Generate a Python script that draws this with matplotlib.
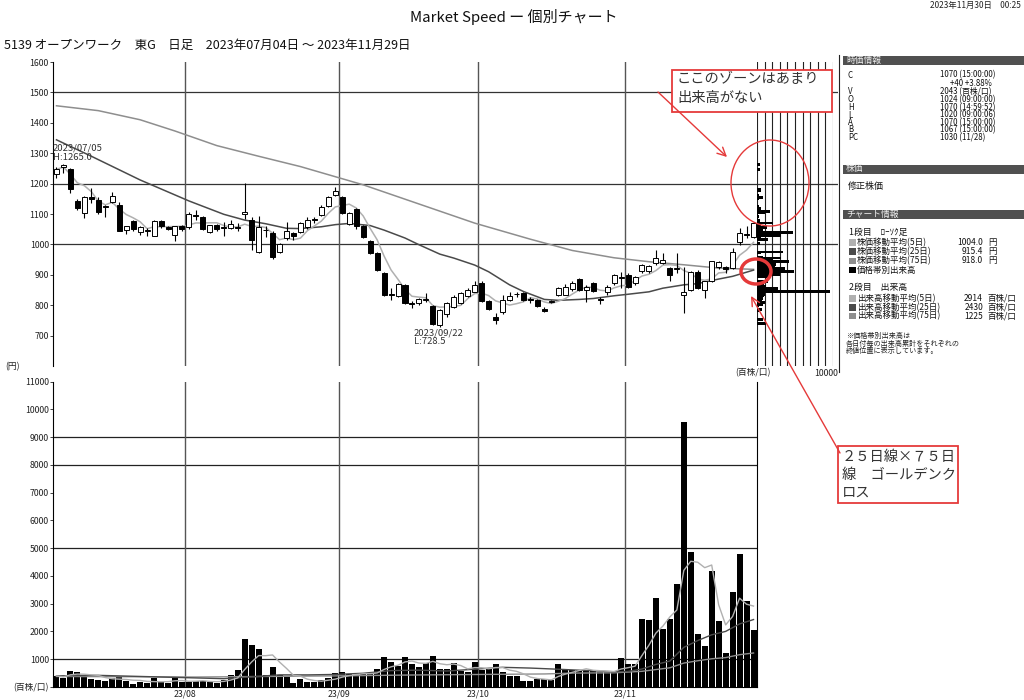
import numpy as np
import pandas as pd
import matplotlib
matplotlib.use("Agg")
import matplotlib.pyplot as plt
from matplotlib.patches import Rectangle, Ellipse, FancyArrowPatch

plt.rcParams['font.family'] = ['Noto Sans CJK JP', 'DejaVu Sans']

# ---------------- data ----------------
opens = [1232, 1255, 1247, 1144, 1103, 1155, 1146, 1125, 1141, 1130,
         1047, 1077, 1042, 1043, 1029, 1077, 1057, 1032, 1061, 1057,
         1097, 1089, 1040, 1064, 1057, 1053, 1056, 1100, 1081, 976,
         1048, 1037, 976, 1020, 1036, 1042, 1057, 1082, 1097, 1127,
         1163, 1155, 1067, 1116, 1062, 1012, 973, 905, 837, 831,
         867, 808, 807, 818, 798, 735, 771, 795, 808, 831,
         845, 872, 815, 760, 776, 818, 836, 840, 822, 817,
         786, 812, 834, 834, 852, 886, 850, 872, 820, 845,
         872, 890, 900, 872, 911, 912, 940, 938, 922, 918,
         834, 850, 910, 850, 878, 925, 927, 922, 1009, 1035,
         1024]
highs = [1254, 1265, 1250, 1150, 1160, 1185, 1155, 1130, 1174, 1140,
         1062, 1080, 1060, 1053, 1080, 1080, 1062, 1062, 1065, 1105,
         1113, 1093, 1065, 1068, 1075, 1080, 1070, 1201, 1091, 1095,
         1060, 1045, 1005, 1075, 1040, 1075, 1090, 1090, 1128, 1160,
         1190, 1160, 1105, 1120, 1065, 1015, 976, 908, 858, 872,
         870, 815, 823, 840, 800, 788, 810, 835, 842, 855,
         878, 880, 818, 774, 834, 842, 845, 845, 828, 820,
         793, 816, 860, 870, 880, 890, 865, 875, 828, 868,
         903, 910, 905, 897, 936, 932, 982, 971, 925, 971,
         927, 912, 915, 880, 947, 946, 930, 988, 1054, 1060,
         1070]
lows = [1218, 1235, 1168, 1112, 1086, 1135, 1100, 1090, 1135, 1043,
        1033, 1045, 1030, 1028, 1027, 1055, 1046, 1012, 1045, 1050,
        1080, 1048, 1037, 1045, 1026, 1050, 1045, 1082, 980, 973,
        1025, 952, 972, 1015, 1015, 1038, 1052, 1070, 1092, 1123,
        1158, 1100, 1063, 1052, 1020, 968, 912, 830, 818, 826,
        805, 792, 800, 812, 735, 728.5, 762, 790, 805, 828,
        842, 812, 785, 738, 772, 814, 828, 815, 808, 795,
        776, 808, 830, 832, 848, 846, 810, 845, 804, 835,
        868, 857, 855, 868, 905, 905, 933, 935, 878, 905,
        774, 846, 852, 823, 875, 920, 905, 918, 998, 1020,
        1020]
closes = [1247, 1262, 1182, 1119, 1155, 1150, 1105, 1122, 1160, 1045,
          1060, 1050, 1057, 1046, 1078, 1059, 1052, 1059, 1050, 1100,
          1092, 1050, 1064, 1050, 1054, 1067, 1053, 1108, 1015, 1056,
          1046, 958, 1002, 1045, 1026, 1072, 1081, 1080, 1124, 1155,
          1177, 1103, 1103, 1061, 1024, 973, 916, 834, 833, 869,
          808, 803, 820, 822, 739, 784, 807, 828, 839, 850,
          867, 815, 787, 752, 817, 831, 838, 818, 818, 798,
          781, 813, 856, 861, 872, 850, 860, 848, 816, 861,
          900, 894, 859, 894, 933, 929, 955, 949, 900, 921,
          845, 910, 856, 878, 944, 943, 920, 975, 1039, 1030,
          1070]
volumes = [396, 336, 588, 540, 444, 276, 240, 204, 324, 372,
           216, 108, 168, 144, 336, 180, 132, 324, 192, 192,
           204, 216, 192, 156, 240, 444, 600, 1717, 1513, 1381,
           432, 733, 432, 372, 132, 300, 168, 192, 252, 312,
           492, 528, 468, 432, 468, 504, 660, 1093, 913, 757,
           1093, 817, 733, 853, 1129, 661, 637, 853, 589, 528,
           889, 613, 661, 817, 540, 408, 396, 204, 228, 288,
           288, 264, 841, 637, 613, 613, 577, 577, 553, 540,
           540, 1033, 817, 817, 2462, 2414, 3207, 2078, 2462, 3711,
           9548, 4852, 1898, 1489, 4191, 2378, 1237, 3411, 4780, 3110,
           2043]

month_labels = ["23/08", "23/09", "23/10", "23/11"]
month_start = [19, 41, 61, 82]

# long moving averages (bar index, value)
ma25_idx = [0, 5, 12, 19, 24, 27, 30, 33, 35, 38, 40, 42, 45, 47, 50, 52, 55, 57,
            60, 62, 65, 67, 70, 72, 75, 77, 80, 82, 85, 87, 90, 92, 95, 97, 100]
ma25_val = [1344, 1290, 1212, 1143, 1099, 1080, 1068, 1053, 1052, 1058, 1065, 1069,
            1062, 1047, 1021, 999, 968, 955, 932, 910, 867, 845, 819, 816, 819, 822,
            831, 836, 844, 856, 867, 871, 886, 895, 915.4]
ma75_idx = [0, 6, 12, 17, 23, 29, 35, 44, 52, 60, 68, 74, 80, 85, 90, 95, 100]
ma75_val = [1456, 1440, 1410, 1373, 1325, 1290, 1256, 1196, 1133, 1070, 1017, 980,
            956, 943, 933, 922, 918]
vma25_idx = [0, 6, 12, 18, 24, 28, 32, 36, 40, 44, 48, 52, 56, 60, 64, 68, 72, 76,
             80, 82, 84, 86, 88, 90, 92, 94, 96, 98, 100]
vma25_val = [400, 420, 380, 340, 300, 365, 438, 436, 453, 495, 591, 607, 576, 641,
             709, 682, 640, 594, 548, 562, 649, 813, 936, 1428, 1674, 1881, 2003,
             2272, 2430]
vma75_idx = [0, 10, 20, 30, 40, 50, 60, 70, 74, 80, 84, 88, 90, 92, 94, 96, 98, 100]
vma75_val = [380, 370, 360, 380, 400, 430, 450, 470, 501, 512, 565, 692, 862, 946,
             1017, 1059, 1164, 1225]

price_ticks = [700, 800, 900, 1000, 1100, 1200, 1300, 1400, 1500, 1600]
price_grid = [1000, 1200, 1500]
vol_ticks = [1000, 2000, 3000, 4000, 5000, 6000, 7000, 8000, 9000, 10000, 11000]
vol_grid = [1000, 5000, 8000, 9000]

# ---------------- figure ----------------
W, H = 1024, 700
fig = plt.figure(figsize=(W / 100, H / 100), dpi=100)
fig.patch.set_facecolor('white')


def rect(x0, y0, x1, y1):
    return [x0 / W, 1 - y1 / H, (x1 - x0) / W, (y1 - y0) / H]


n = len(closes)
idx = np.arange(n)
step = (757 - 53) / n
x_right = -0.5 + (838 - 53) / step

C5 = '#b0b0b0'
C25 = '#4a4a4a'
C75 = '#8e8e8e'
TICK = 6.3

# price panel
ax_p = fig.add_axes(rect(53, 62, 838, 366))
ax_p.set_xlim(-0.5, x_right)
ax_p.set_ylim(600, 1600)
for s in ['top', 'right', 'bottom']:
    ax_p.spines[s].set_visible(False)
ax_p.spines['left'].set_linewidth(0.8)
ax_p.set_xticks([])
ax_p.set_yticks(price_ticks)
ax_p.set_yticklabels([str(t) for t in price_ticks])
ax_p.tick_params(axis='y', length=2, width=0.6, pad=1, labelsize=TICK, colors='#222')
for g in price_grid:
    ax_p.axhline(g, color='#333333', lw=0.9, zorder=1)
for m in month_start:
    ax_p.axvline(m - 0.5, color='#555555', lw=1.0, zorder=1)

o, h, l, c = map(np.array, (opens, highs, lows, closes))
ma5 = pd.Series(closes).rolling(5, min_periods=1).mean()
ax_p.plot(ma75_idx, ma75_val, color=C75, lw=1.1, zorder=2)
ax_p.plot(ma25_idx, ma25_val, color=C25, lw=1.1, zorder=2)
ax_p.plot(idx, ma5, color=C5, lw=1.1, zorder=2)
ax_p.vlines(idx, l, h, color='black', lw=0.8, zorder=3)
bw = 0.72
for i in range(n):
    bottom = min(o[i], c[i])
    height = max(abs(c[i] - o[i]), 0.8)
    ax_p.add_patch(Rectangle((i - bw / 2, bottom), bw, height,
                             facecolor='white' if c[i] >= o[i] else 'black',
                             edgecolor='black', lw=0.7, zorder=4))

# price-by-volume panel: each day's volume summed at its closing price
ax_h = fig.add_axes(rect(757, 62, 833, 366))
ax_h.patch.set_alpha(0)
ax_h.set_xlim(0, 10000)
ax_h.set_ylim(600, 1600)
ax_h.axis('off')
for v in range(0, 10001, 1000):
    ax_h.axvline(v, color='#222222', lw=0.8, zorder=1)
pbv = pd.Series(volumes).groupby(pd.Series(closes)).sum()
ax_h.barh(pbv.index.values, pbv.values, height=9, align='center', color='black', zorder=3)

# volume panel
ax_v = fig.add_axes(rect(53, 381.7, 757, 687))
ax_v.set_xlim(-0.5, n - 0.5)
ax_v.set_ylim(0, 11000)
ax_v.spines['top'].set_visible(False)
for s in ['left', 'bottom', 'right']:
    ax_v.spines[s].set_linewidth(0.8)
ax_v.set_yticks([0] + vol_ticks)
ax_v.set_yticklabels(['(百株/口)'] + [str(t) for t in vol_ticks])
ax_v.tick_params(axis='y', length=2, width=0.6, pad=1, labelsize=TICK, colors='#222')
ax_v.set_xticks([m - 0.5 for m in month_start])
ax_v.set_xticklabels(month_labels)
ax_v.tick_params(axis='x', length=0, pad=1.5, labelsize=TICK, colors='#222')
for g in vol_grid:
    ax_v.axhline(g, color='#222222', lw=0.9, zorder=1)
for m in month_start:
    ax_v.axvline(m - 0.5, color='#555555', lw=1.0, zorder=1)
ax_v.bar(idx, volumes, width=0.86, color='black', zorder=3)
vma5 = pd.Series(volumes).rolling(5, min_periods=1).mean()
ax_v.plot(vma75_idx, vma75_val, color=C75, lw=1.0, zorder=4)
ax_v.plot(vma25_idx, vma25_val, color=C25, lw=1.0, zorder=4)
ax_v.plot(idx, vma5, color=C5, lw=1.0, zorder=4)

# ---------------- overlay (pixel coords) ----------------
ov = fig.add_axes([0, 0, 1, 1], zorder=10)
ov.set_xlim(0, W)
ov.set_ylim(H, 0)
ov.axis('off')
ov.patch.set_alpha(0)

ov.text(930, 5, '2023年11月30日　00:25', fontsize=6, va='center', ha='left', color='#222')
ov.text(514, 17, 'Market Speed ー 個別チャート', fontsize=10.8, ha='center', va='center', color='#111')
ov.text(4, 45, '5139 オープンワーク　東G　日足　2023年07月04日 ～ 2023年11月29日',
        fontsize=9.0, ha='left', va='center', color='#111')

ov.plot([839, 839], [55, 372], color='#222', lw=0.8)
ov.text(5, 367, '(円)', fontsize=TICK, va='center', ha='left', color='#222')
ov.text(735, 373, '(百株/口)', fontsize=TICK, va='center', ha='left', color='#222')
ov.text(838, 373, '10000', fontsize=TICK, va='center', ha='right', color='#222')

ov.text(53, 148, '2023/07/05', fontsize=6.8, va='center', ha='left', color='#333')
ov.text(53, 158, 'H:1265.0', fontsize=6.8, va='center', ha='left', color='#333')
ov.text(414, 333, '2023/09/22', fontsize=6.8, va='center', ha='left', color='#333')
ov.text(414, 342, 'L:728.5', fontsize=6.8, va='center', ha='left', color='#333')

# right info panel
HDR = '#505050'
for (y0, y1, t) in [(55.5, 64.5, '時価情報'), (164.5, 173.5, '株価'), (209.5, 218.5, 'チャート情報')]:
    ov.add_patch(Rectangle((843, y0), 181, y1 - y0, facecolor=HDR, edgecolor='none'))
    ov.text(846, (y0 + y1) / 2, t, fontsize=6.3, color='#eeeeee', va='center', ha='left')

info_keys = ['C', '', 'V', 'O', 'H', 'L', 'A', 'B', 'PC']
info_vals = ['1070 (15:00:00)', '+40 +3.88%', '2043 (百株/口)', '1024 (09:00:00)',
             '1070 (14:59:52)', '1020 (09:00:06)', '1070 (15:00:00)', '1067 (15:00:00)',
             '1030 (11/28)']
info_y = [75, 83.3, 91.7, 100, 107.5, 115, 122.7, 130, 137.5]
for k, v, y in zip(info_keys, info_vals, info_y):
    ov.text(848, y, k, fontsize=5.7, va='center', ha='left', color='#111')
    ov.text(950 if v.startswith('+') else 940, y, v, fontsize=5.7, va='center', ha='left', color='#111')
ov.text(848, 187, '修正株価', fontsize=6.5, va='center', ha='left', color='#111')

LF = 6.1
ov.text(849, 232, '1段目　ﾛｰｿｸ足', fontsize=6.4, va='center', ha='left', color='#111')
leg1 = [(C5, '株価移動平均(5日)', '1004.0', '円'),
        (C25, '株価移動平均(25日)', '915.4', '円'),
        (C75, '株価移動平均(75日)', '918.0', '円'),
        ('#000000', '価格帯別出来高', '', '')]
for j, (col, lab, val, unit) in enumerate(leg1):
    y = 242.5 + j * 9.2
    ov.add_patch(Rectangle((849, y - 3.3), 6.6, 6.6, facecolor=col, edgecolor='none'))
    ov.text(857, y, lab, fontsize=LF, va='center', ha='left', color='#111')
    ov.text(983, y, val, fontsize=LF, va='center', ha='right', color='#111')
    ov.text(988, y, unit, fontsize=LF, va='center', ha='left', color='#111')
ov.text(849, 287, '2段目　出来高', fontsize=6.4, va='center', ha='left', color='#111')
leg2 = [(C5, '出来高移動平均(5日)', '2914', '百株/口'),
        (C25, '出来高移動平均(25日)', '2430', '百株/口'),
        (C75, '出来高移動平均(75日)', '1225', '百株/口')]
for j, (col, lab, val, unit) in enumerate(leg2):
    y = 298.5 + j * 8.8
    ov.add_patch(Rectangle((849, y - 3.3), 6.6, 6.6, facecolor=col, edgecolor='none'))
    ov.text(857, y, lab, fontsize=LF, va='center', ha='left', color='#111')
    ov.text(983, y, val, fontsize=LF, va='center', ha='right', color='#111')
    ov.text(987, y, unit, fontsize=LF, va='center', ha='left', color='#111')
for y, t in [(336, '※価格帯別出来高は'), (343.5, '各日付毎の出来高累計をそれぞれの'),
             (351, '終値位置に表示しています。')]:
    ov.text(846, y, t, fontsize=5.1, va='center', ha='left', color='#222')

# red annotations
RED = '#e53a3a'
ov.add_patch(Rectangle((672, 70), 160, 42, facecolor='white', edgecolor=RED, lw=1.3))
ov.text(677, 79, 'ここのゾーンはあまり', fontsize=10.3, va='center', ha='left', color='#333')
ov.text(677, 98, '出来高がない', fontsize=10.3, va='center', ha='left', color='#333')
ov.add_patch(FancyArrowPatch((658, 92), (727, 157), arrowstyle='->,head_length=6,head_width=3',
                             color=RED, lw=1.0, shrinkA=0, shrinkB=0))
ov.add_patch(Ellipse((770, 183), 78, 86, facecolor='none', edgecolor=RED, lw=1.0))
ov.add_patch(Ellipse((756, 271.5), 30, 25, facecolor='none', edgecolor=RED, lw=2.5))

ov.add_patch(Rectangle((838, 446), 120, 57, facecolor='white', edgecolor=RED, lw=1.3))
for y, t in [(457, '２５日線×７５日'), (475, '線　ゴールデンク'), (493, 'ロス')]:
    ov.text(842, y, t, fontsize=10.3, va='center', ha='left', color='#333')
ov.add_patch(FancyArrowPatch((840, 453), (751, 296), arrowstyle='->,head_length=6,head_width=3',
                             color=RED, lw=1.0, shrinkA=0, shrinkB=0))

fig.savefig('out.png', dpi=100, facecolor='white')
